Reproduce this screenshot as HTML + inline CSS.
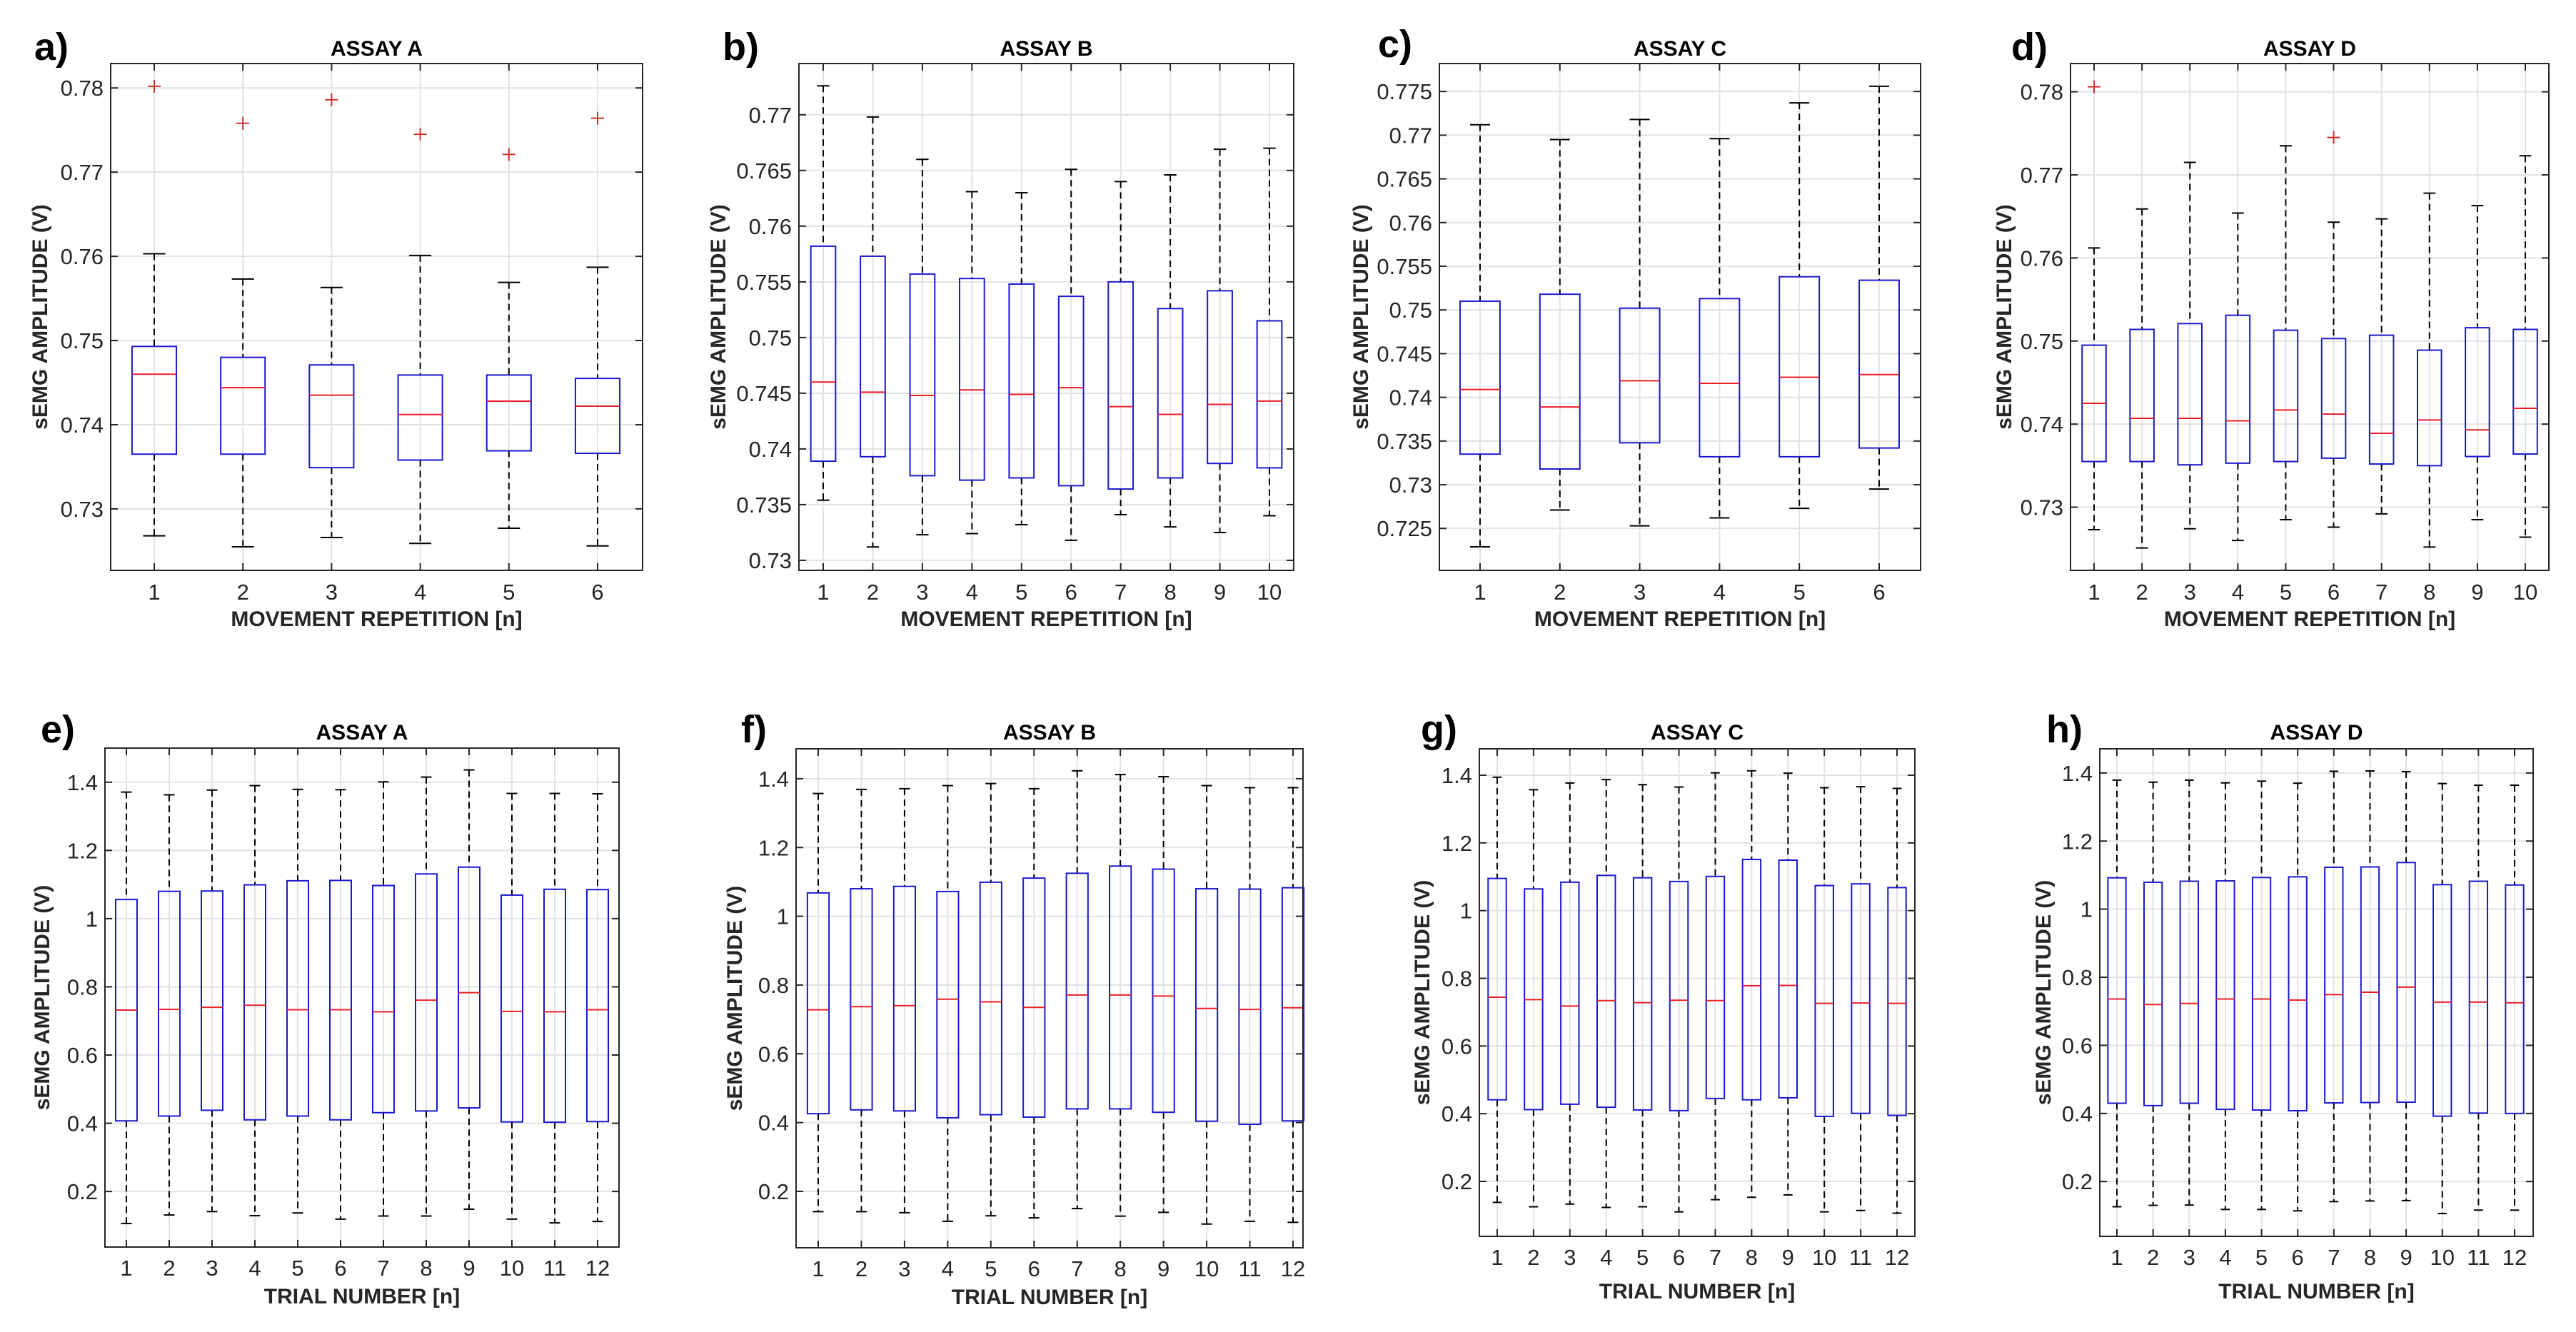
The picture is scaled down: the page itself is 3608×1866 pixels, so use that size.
<!DOCTYPE html>
<html><head><meta charset="utf-8"><style>
html,body{margin:0;padding:0;background:#fff;}
svg{display:block;font-family:"Liberation Sans",Arial,sans-serif;}
.pl{font-family:"Liberation Sans",sans-serif;font-weight:bold;font-size:54px;}
</style></head><body>
<svg id="fig" width="3608" height="1866" viewBox="0 0 3608 1866" xmlns="http://www.w3.org/2000/svg"></svg>
<script>
// ---- Panel data: [upperWhisker, Q3, median, Q1, lowerWhisker] per category ----
const aUp=[0.7603,0.7573,0.7563,0.7601,0.7569,0.7587];
const aQ3=[0.7493,0.7480,0.7471,0.7459,0.7459,0.7455];
const aMed=[0.7460,0.7444,0.7435,0.7412,0.7428,0.7422];
const aQ1=[0.7365,0.7365,0.7349,0.7358,0.7369,0.7366];
const aLow=[0.7268,0.7255,0.7266,0.7259,0.7277,0.7256];
const aOut=[[1,0.7802],[2,0.7758],[3,0.7786],[4,0.7745],[5,0.7721],[6,0.7764]];

const bUp=[0.7726,0.7698,0.7660,0.7631,0.7630,0.7651,0.7640,0.7646,0.7669,0.7670];
const bQ3=[0.7582,0.7573,0.7557,0.7553,0.7548,0.7537,0.7550,0.7526,0.7542,0.7515];
const bMed=[0.7460,0.7451,0.7448,0.7453,0.7449,0.7455,0.7438,0.7431,0.7440,0.7443];
const bQ1=[0.7389,0.7393,0.7376,0.7372,0.7374,0.7367,0.7364,0.7374,0.7387,0.7383];
const bLow=[0.7354,0.7312,0.7323,0.7324,0.7332,0.7318,0.7341,0.7330,0.7325,0.7340];
const bOut=[];

const cUp=[0.7712,0.7695,0.7718,0.7696,0.7737,0.7756];
const cQ3=[0.7510,0.7518,0.7502,0.7513,0.7538,0.7534];
const cMed=[0.7409,0.7389,0.7419,0.7416,0.7423,0.7426];
const cQ1=[0.7335,0.7318,0.7348,0.7332,0.7332,0.7342];
const cLow=[0.7229,0.7271,0.7253,0.7262,0.7273,0.7295];
const cOut=[];

const dUp=[0.7612,0.7659,0.7715,0.7654,0.7735,0.7643,0.7647,0.7678,0.7663,0.7723];
const dQ3=[0.7495,0.7514,0.7521,0.7531,0.7513,0.7503,0.7507,0.7489,0.7516,0.7514];
const dMed=[0.7425,0.7407,0.7407,0.7404,0.7417,0.7412,0.7389,0.7405,0.7393,0.7419];
const dQ1=[0.7355,0.7355,0.7351,0.7353,0.7355,0.7359,0.7352,0.7350,0.7361,0.7364];
const dLow=[0.7273,0.7251,0.7274,0.7260,0.7285,0.7276,0.7292,0.7252,0.7285,0.7264];
const dOut=[[1,0.7806],[6,0.7745]];

const eUp=[1.371,1.363,1.377,1.390,1.379,1.378,1.401,1.415,1.436,1.367,1.367,1.366];
const eQ3=[1.056,1.080,1.081,1.099,1.111,1.112,1.097,1.131,1.151,1.069,1.086,1.085];
const eMed=[0.732,0.734,0.740,0.746,0.733,0.733,0.727,0.761,0.783,0.728,0.727,0.733];
const eQ1=[0.407,0.421,0.438,0.410,0.421,0.410,0.431,0.436,0.445,0.404,0.403,0.405];
const eLow=[0.106,0.131,0.141,0.129,0.137,0.119,0.128,0.128,0.148,0.119,0.108,0.112];

const fUp=[1.357,1.369,1.371,1.380,1.386,1.371,1.423,1.412,1.406,1.380,1.374,1.374];
const fQ3=[1.068,1.080,1.087,1.072,1.099,1.111,1.125,1.146,1.137,1.080,1.079,1.083];
const fMed=[0.728,0.737,0.740,0.759,0.751,0.735,0.771,0.771,0.768,0.732,0.729,0.734];
const fQ1=[0.426,0.437,0.434,0.414,0.423,0.416,0.440,0.440,0.430,0.404,0.395,0.405];
const fLow=[0.141,0.141,0.138,0.113,0.129,0.123,0.150,0.128,0.139,0.105,0.113,0.110];

const gUp=[1.394,1.357,1.377,1.387,1.372,1.365,1.407,1.413,1.406,1.363,1.366,1.361];
const gQ3=[1.095,1.064,1.084,1.104,1.097,1.086,1.101,1.151,1.149,1.074,1.079,1.068];
const gMed=[0.744,0.737,0.718,0.734,0.728,0.735,0.734,0.778,0.779,0.726,0.727,0.726];
const gQ1=[0.441,0.412,0.428,0.419,0.411,0.409,0.445,0.441,0.447,0.392,0.401,0.395];
const gLow=[0.138,0.125,0.133,0.123,0.125,0.110,0.146,0.153,0.160,0.110,0.114,0.106];

const hUp=[1.379,1.373,1.379,1.371,1.376,1.370,1.405,1.406,1.404,1.369,1.364,1.364];
const hQ3=[1.092,1.079,1.082,1.083,1.093,1.095,1.123,1.124,1.137,1.072,1.082,1.071];
const hMed=[0.736,0.720,0.723,0.736,0.736,0.733,0.749,0.756,0.771,0.727,0.727,0.725];
const hQ1=[0.430,0.423,0.430,0.412,0.410,0.408,0.431,0.432,0.433,0.392,0.401,0.400];
const hLow=[0.126,0.130,0.131,0.118,0.118,0.114,0.141,0.143,0.144,0.106,0.116,0.116];

const topTicks1=[0.73,0.74,0.75,0.76,0.77,0.78];
const topTicksB=[0.73,0.735,0.74,0.745,0.75,0.755,0.76,0.765,0.77];
const topTicksC=[0.725,0.73,0.735,0.74,0.745,0.75,0.755,0.76,0.765,0.77,0.775];
const botTicks=[0.2,0.4,0.6,0.8,1,1.2,1.4];

const NS='http://www.w3.org/2000/svg';
const svg=document.getElementById('fig');
function mk(tag,attrs,parent){const e=document.createElementNS(NS,tag);for(const k in attrs)e.setAttribute(k,attrs[k]);(parent||svg).appendChild(e);return e;}

const panels=[
 {id:'a',L:155,R:900,T:89,B:799,x1:216,xn:837,ymin:0.7227,ymax:0.7829,ticks:topTicks1,up:aUp,q3:aQ3,med:aMed,q1:aQ1,low:aLow,out:aOut,title:'ASSAY A',xt:'MOVEMENT REPETITION [n]',lx:48,ly:84,ylx:58,tlb:78,xlb:840,xtb:877},
 {id:'b',L:1119,R:1812,T:89,B:799,x1:1153,xn:1778,ymin:0.7291,ymax:0.7746,ticks:topTicksB,up:bUp,q3:bQ3,med:bMed,q1:bQ1,low:bLow,out:bOut,title:'ASSAY B',xt:'MOVEMENT REPETITION [n]',lx:1012,ly:84,ylx:1008,tlb:78,xlb:840,xtb:877},
 {id:'c',L:2016,R:2690,T:89,B:799,x1:2073,xn:2632,ymin:0.7202,ymax:0.7782,ticks:topTicksC,up:cUp,q3:cQ3,med:cMed,q1:cQ1,low:cLow,out:cOut,title:'ASSAY C',xt:'MOVEMENT REPETITION [n]',lx:1930,ly:80,ylx:1908,tlb:78,xlb:840,xtb:877},
 {id:'d',L:2900,R:3570,T:89,B:799,x1:2933,xn:3537,ymin:0.7224,ymax:0.7834,ticks:topTicks1,up:dUp,q3:dQ3,med:dMed,q1:dQ1,low:dLow,out:dOut,title:'ASSAY D',xt:'MOVEMENT REPETITION [n]',lx:2817,ly:84,ylx:2809,tlb:78,xlb:840,xtb:877},
 {id:'e',L:147,R:867,T:1048,B:1747,x1:177,xn:837,ymin:0.037,ymax:1.5,ticks:botTicks,up:eUp,q3:eQ3,med:eMed,q1:eQ1,low:eLow,out:[],title:'ASSAY A',xt:'TRIAL NUMBER [n]',lx:57,ly:1040,ylx:61,tlb:1036,xlb:1787,xtb:1826},
 {id:'f',L:1115,R:1825,T:1049,B:1748,x1:1146,xn:1811,ymin:0.036,ymax:1.487,ticks:botTicks,up:fUp,q3:fQ3,med:fMed,q1:fQ1,low:fLow,out:[],title:'ASSAY B',xt:'TRIAL NUMBER [n]',lx:1038,ly:1040,ylx:1031,tlb:1036,xlb:1788,xtb:1827},
 {id:'g',L:2072,R:2682,T:1049,B:1732,x1:2097,xn:2657,ymin:0.0376,ymax:1.478,ticks:botTicks,up:gUp,q3:gQ3,med:gMed,q1:gQ1,low:gLow,out:[],title:'ASSAY C',xt:'TRIAL NUMBER [n]',lx:1990,ly:1040,ylx:1994,tlb:1036,xlb:1772,xtb:1819},
 {id:'h',L:2941,R:3548,T:1049,B:1732,x1:2965,xn:3522,ymin:0.039,ymax:1.471,ticks:botTicks,up:hUp,q3:hQ3,med:hMed,q1:hQ1,low:hLow,out:[],title:'ASSAY D',xt:'TRIAL NUMBER [n]',lx:2866,ly:1040,ylx:2864,tlb:1036,xlb:1772,xtb:1819}
];

function fmt(v){return String(parseFloat(v.toFixed(4)));}

panels.forEach(p=>{
  const g=mk('g',{});
  
  
  const n=p.up.length;
  const sx=i=>p.x1+(i-1)*(p.xn-p.x1)/(n-1);
  const sy=v=>p.B-(v-p.ymin)/(p.ymax-p.ymin)*(p.B-p.T);
  const step=(p.xn-p.x1)/(n-1);
  // panel letter
  const lt=mk('text',{x:p.lx,y:p.ly,class:'pl'},g);lt.textContent=p.id+')';
  
  
  // background + grid
  mk('rect',{x:p.L,y:p.T,width:p.R-p.L,height:p.B-p.T,fill:'#fff'},g);
  p.ticks.forEach(t=>{
    const y=sy(t);
    const gl=mk('line',{x1:p.L,x2:p.R,y1:y,y2:y,stroke:'#e3e3e3','stroke-width':2},g);
    
    
    mk('line',{x1:p.L,x2:p.L+10,y1:y,y2:y,stroke:'#262626','stroke-width':2},g);
    mk('line',{x1:p.R-10,x2:p.R,y1:y,y2:y,stroke:'#262626','stroke-width':2},g);
    const tl=mk('text',{x:p.L-10,y:y+11,'text-anchor':'end','font-size':31,fill:'#262626'},g);
    tl.textContent=fmt(t);
    
    
  });
  for(let i=1;i<=n;i++){
    const x=sx(i);
    const gl=mk('line',{x1:x,x2:x,y1:p.T,y2:p.B,stroke:'#e3e3e3','stroke-width':2},g);
    
    
    mk('line',{x1:x,x2:x,y1:p.B-10,y2:p.B,stroke:'#262626','stroke-width':2},g);
    mk('line',{x1:x,x2:x,y1:p.T,y2:p.T+10,stroke:'#262626','stroke-width':2},g);
    const tl=mk('text',{x:x,y:p.xlb,'text-anchor':'middle','font-size':31,fill:'#262626'},g);
    tl.textContent=String(i);
    
    
  }
  // boxes
  const hw=step*0.25;
  for(let i=0;i<n;i++){
    const x=sx(i+1);
    const bg=mk('g',{},g);
    
    
    const dash={stroke:'#000','stroke-width':2,'stroke-dasharray':'9,6'};
    mk('line',Object.assign({x1:x,x2:x,y1:sy(p.up[i]),y2:sy(p.q3[i])},dash),bg);
    mk('line',Object.assign({x1:x,x2:x,y1:sy(p.q1[i]),y2:sy(p.low[i])},dash),bg);
    mk('line',{x1:x-hw/2,x2:x+hw/2,y1:sy(p.up[i]),y2:sy(p.up[i]),stroke:'#000','stroke-width':2},bg);
    mk('line',{x1:x-hw/2,x2:x+hw/2,y1:sy(p.low[i]),y2:sy(p.low[i]),stroke:'#000','stroke-width':2},bg);
    mk('rect',{x:x-hw,y:sy(p.q3[i]),width:2*hw,height:sy(p.q1[i])-sy(p.q3[i]),fill:'none',stroke:'#1a1acc','stroke-width':2},bg);
    mk('line',{x1:x-hw,x2:x+hw,y1:sy(p.med[i]),y2:sy(p.med[i]),stroke:'#e8202a','stroke-width':2},bg);
  }
  p.out.forEach(o=>{
    const x=sx(o[0]),y=sy(o[1]);
    const og=mk('g',{stroke:'#d03030','stroke-width':2},g);
    
    
    mk('line',{x1:x-9,x2:x+9,y1:y,y2:y},og);
    mk('line',{x1:x,x2:x,y1:y-9,y2:y+9},og);
  });
  // frame
  const fr=mk('rect',{x:p.L,y:p.T,width:p.R-p.L,height:p.B-p.T,fill:'none',stroke:'#262626','stroke-width':2},g);
  
  
  // title
  const tt=mk('text',{x:(p.L+p.R)/2,y:p.tlb,'text-anchor':'middle','font-size':30,'font-weight':'bold',fill:'#000'},g);
  tt.textContent=p.title;
  
  
  const xt=mk('text',{x:(p.L+p.R)/2,y:p.xtb,'text-anchor':'middle','font-size':30,'font-weight':'bold',fill:'#262626'},g);
  xt.textContent=p.xt;
  
  
  const cy=(p.T+p.B)/2;
  const yt=mk('text',{x:p.ylx,y:cy,'text-anchor':'middle','font-size':30,'font-weight':'bold',fill:'#262626',transform:'rotate(-90 '+p.ylx+' '+cy+')','dominant-baseline':'middle'},g);
  yt.textContent='sEMG AMPLITUDE (V)';
  
  
});
</script>
</body></html>
